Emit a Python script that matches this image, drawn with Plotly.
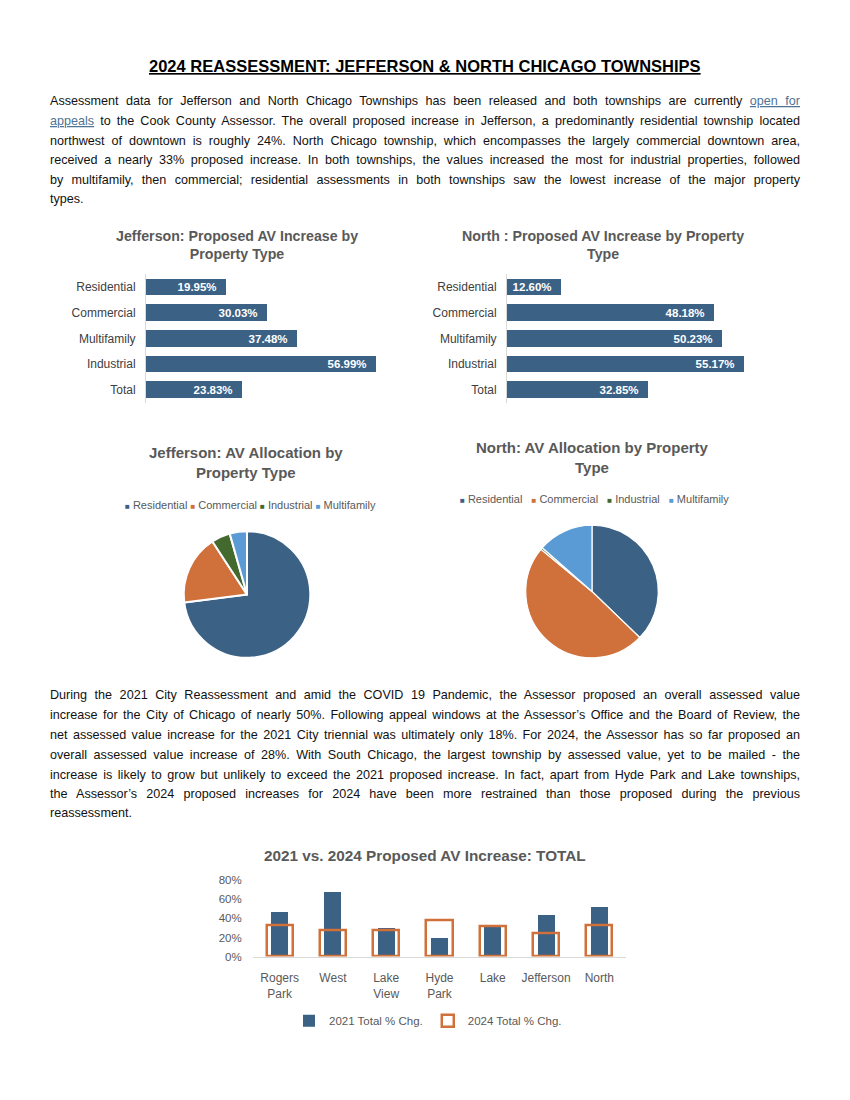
import plotly.graph_objects as go

W, H = 850, 1100


def fx(px):
    return px / W


def fy(py):
    return 1 - py / H


BLUE = "#3b6185"
ORANGE = "#d0703a"
GREEN = "#43692f"
LIGHTBLUE = "#5b9bd5"
GRAY_TXT = "#595959"
LABEL_TXT = "#404040"
AXIS_GRAY = "#d9d9d9"
BODY_FONT = "Liberation Sans"
LINK = "#4f7394"

# ---------------- data ----------------
bar_categories = ["Residential", "Commercial", "Multifamily", "Industrial", "Total"]
jefferson_increase = [19.95, 30.03, 37.48, 56.99, 23.83]
north_increase = [12.60, 48.18, 50.23, 55.17, 32.85]

pie_labels = ["Residential", "Commercial", "Industrial", "Multifamily"]
pie_colors = [BLUE, ORANGE, GREEN, LIGHTBLUE]
jefferson_alloc = [73.0, 17.8, 4.8, 4.4]
north_alloc = [37.2, 48.8, 0.5, 13.5]

townships = ["Rogers<br>Park", "West", "Lake<br>View", "Hyde<br>Park", "Lake", "Jefferson", "North"]
chg_2021 = [46.5, 67.0, 29.8, 19.3, 30.5, 43.0, 52.0]
chg_2024 = [32.6, 27.4, 27.4, 37.9, 31.6, 23.83, 32.85]
pct_ticks = [0, 20, 40, 60, 80]
pct_tick_labels = ["0%", "20%", "40%", "60%", "80%"]

title_text = "2024 REASSESSMENT: JEFFERSON & NORTH CHICAGO TOWNSHIPS"
para1 = [
    "Assessment data for Jefferson and North Chicago Townships has been released and both townships are currently "
    "<span style='color:" + LINK + "'><u>open for</u></span>",
    "<span style='color:" + LINK + "'><u>appeals</u></span> to the Cook County Assessor. The overall proposed increase in Jefferson, a predominantly residential township located",
    "northwest of downtown is roughly 24%. North Chicago township, which encompasses the largely commercial downtown area,",
    "received a nearly 33% proposed increase. In both townships, the values increased the most for industrial properties, followed",
    "by multifamily, then commercial; residential assessments in both townships saw the lowest increase of the major property",
    "types.",
]
para2 = [
    "During the 2021 City Reassessment and amid the COVID 19 Pandemic, the Assessor proposed an overall assessed value",
    "increase for the City of Chicago of nearly 50%. Following appeal windows at the Assessor’s Office and the Board of Review, the",
    "net assessed value increase for the 2021 City triennial was ultimately only 18%. For 2024, the Assessor has so far proposed an",
    "overall assessed value increase of 28%. With South Chicago, the largest township by assessed value, yet to be mailed - the",
    "increase is likely to grow but unlikely to exceed the 2021 proposed increase. In fact, apart from Hyde Park and Lake townships,",
    "the Assessor’s 2024 proposed increases for 2024 have been more restrained than those proposed during the previous",
    "reassessment.",
]
para1_y = [96, 116, 136, 156, 176, 195]
para2_y = [697, 717, 737, 757, 777, 797, 816]

fig = go.Figure()

# ---------------- horizontal bar charts ----------------
for vals, xa, ya in [(jefferson_increase, "x", "y"), (north_increase, "x2", "y2")]:
    fig.add_trace(go.Bar(
        y=bar_categories, x=vals, orientation="h", xaxis=xa, yaxis=ya,
        width=0.65, marker=dict(color=BLUE, line=dict(width=0)),
        texttemplate="%{x:.2f}%\u00a0\u00a0", textposition="inside", insidetextanchor="end",
        constraintext="none",
        textfont=dict(family=BODY_FONT, size=11.5, color="white", weight="bold"),
        showlegend=False, hoverinfo="x+y",
    ))

# ---------------- pies ----------------
fig.add_trace(go.Pie(
    labels=pie_labels, values=jefferson_alloc, sort=False, direction="clockwise", rotation=0,
    marker=dict(colors=pie_colors, line=dict(color="white", width=2)),
    textinfo="none", showlegend=False,
    domain=dict(x=[fx(183), fx(311)], y=[fy(659), fy(531)]),
))
fig.add_trace(go.Pie(
    labels=pie_labels, values=north_alloc, sort=False, direction="clockwise", rotation=0,
    marker=dict(colors=pie_colors, line=dict(color="white", width=1.2)),
    textinfo="none", showlegend=False,
    domain=dict(x=[fx(525), fx(659)], y=[fy(659), fy(525)]),
))

# ---------------- bottom comparison chart ----------------
fig.add_trace(go.Bar(
    x=townships, y=chg_2021, xaxis="x3", yaxis="y3", name="2021 Total % Chg.",
    width=0.32, marker=dict(color=BLUE, line=dict(width=0)),
))
fig.add_trace(go.Bar(
    x=townships, y=chg_2024, xaxis="x3", yaxis="y3", name="2024 Total % Chg.",
    width=0.49, marker=dict(color="rgba(0,0,0,0)", line=dict(color=ORANGE, width=2.5)),
))

hbar_y = dict(
    range=[4.5, -0.5], showline=True, linecolor=AXIS_GRAY, linewidth=1,
    ticks="outside", ticklen=7, tickcolor="rgba(0,0,0,0)",
    tickfont=dict(family=BODY_FONT, size=12, color=LABEL_TXT), showgrid=False, zeroline=False,
    fixedrange=True,
)

fig.update_layout(
    width=W, height=H, margin=dict(l=0, r=0, t=0, b=0),
    paper_bgcolor="white", plot_bgcolor="white",
    barmode="overlay", bargap=0,
    font=dict(family=BODY_FONT, color=GRAY_TXT),
    xaxis=dict(domain=[fx(146), fx(396)], range=[0, 62], visible=False, anchor="y"),
    yaxis=dict(domain=[fy(401), fy(271)], anchor="x", **hbar_y),
    xaxis2=dict(domain=[fx(507), fx(757)], range=[0, 58.3], visible=False, anchor="y2"),
    yaxis2=dict(domain=[fy(401), fy(271)], anchor="x2", **hbar_y),
    xaxis3=dict(domain=[fx(253), fx(626)], anchor="y3", showline=True, linecolor=AXIS_GRAY,
                linewidth=1, ticks="outside", ticklen=10, tickcolor="rgba(0,0,0,0)",
                tickfont=dict(family=BODY_FONT, size=12, color=GRAY_TXT), showgrid=False),
    yaxis3=dict(domain=[fy(961), fy(884)], anchor="x3", range=[0, 80], tickmode="array",
                tickvals=pct_ticks, ticktext=pct_tick_labels,
                showgrid=False, zeroline=False, showline=False,
                ticks="outside", ticklen=8, tickcolor="rgba(0,0,0,0)",
                tickfont=dict(family=BODY_FONT, size=11.5, color=GRAY_TXT)),
    legend=dict(orientation="h", x=fx(428), xanchor="center", y=fy(1026), yanchor="middle",
                font=dict(family=BODY_FONT, size=11.5, color=GRAY_TXT), itemwidth=30,
                bgcolor="rgba(0,0,0,0)"),
)

annotations = []


def add_text(text, x, y, size, color, bold=False, xanchor="center", align="center"):
    annotations.append(dict(
        text=text, x=fx(x), y=fy(y), xref="paper", yref="paper", showarrow=False,
        xanchor=xanchor, yanchor="middle", align=align, borderpad=0,
        font=dict(family=BODY_FONT, size=size, color=color, weight="bold" if bold else "normal"),
    ))


# page title
add_text("<u>" + title_text + "</u>", 425, 61, 16.5, "#000000", bold=True)

# paragraphs
justify_idx = []
for i, (line, y) in enumerate(zip(para1, para1_y)):
    if i < len(para1) - 1:
        justify_idx.append(len(annotations))
    add_text(line, 49, y, 12.6, "#111111", xanchor="left", align="left")
for i, (line, y) in enumerate(zip(para2, para2_y)):
    if i < len(para2) - 1:
        justify_idx.append(len(annotations))
    add_text(line, 49, y, 12.6, "#111111", xanchor="left", align="left")

# chart titles
add_text("Jefferson: Proposed AV Increase by<br>Property Type", 237, 242, 14.2, GRAY_TXT, bold=True)
add_text("North : Proposed AV Increase by Property<br>Type", 603, 242, 14.2, GRAY_TXT, bold=True)
add_text("Jefferson: AV Allocation by<br>Property Type", 246, 462, 15, GRAY_TXT, bold=True)
add_text("North: AV Allocation by Property<br>Type", 592, 456, 15, GRAY_TXT, bold=True)
add_text("2021 vs. 2024 Proposed AV Increase: TOTAL", 425, 859, 15.3, GRAY_TXT, bold=True)


# pie legends
def legend_text(labels, colors, sep):
    parts = []
    for lab, col in zip(labels, colors):
        parts.append("<span style='color:" + col + ";font-size:8px'>■</span> " + lab)
    return sep.join(parts)


add_text(legend_text(pie_labels, pie_colors, " "), 250, 504, 11, GRAY_TXT)
add_text(legend_text(pie_labels, pie_colors, "   "), 594, 498, 11, GRAY_TXT)

fig.update_layout(annotations=annotations)

post = """
(function(){
  document.body.style.margin = '0';
  var gd = document.querySelector('.plotly-graph-div');
  var idx = %s;
  var rightEdge = 800;
  function justify(){
    var base = gd.getBoundingClientRect().left;
    idx.forEach(function(i){
      var t = gd.querySelector('g.annotation[data-index="' + i + '"] text.annotation-text');
      if(!t) return;
      t.style.wordSpacing = '0px';
      var left = t.getBoundingClientRect().left - base;
      var len = t.getComputedTextLength();
      var n = (t.textContent.match(/ /g) || []).length;
      var target = rightEdge - left;
      if(n > 0 && len < target){ t.style.wordSpacing = ((target - len) / n) + 'px'; }
    });
  }
  justify();
})();
""" % str(justify_idx)

fig.write_html("out.html", post_script=post, config={"displayModeBar": False})
